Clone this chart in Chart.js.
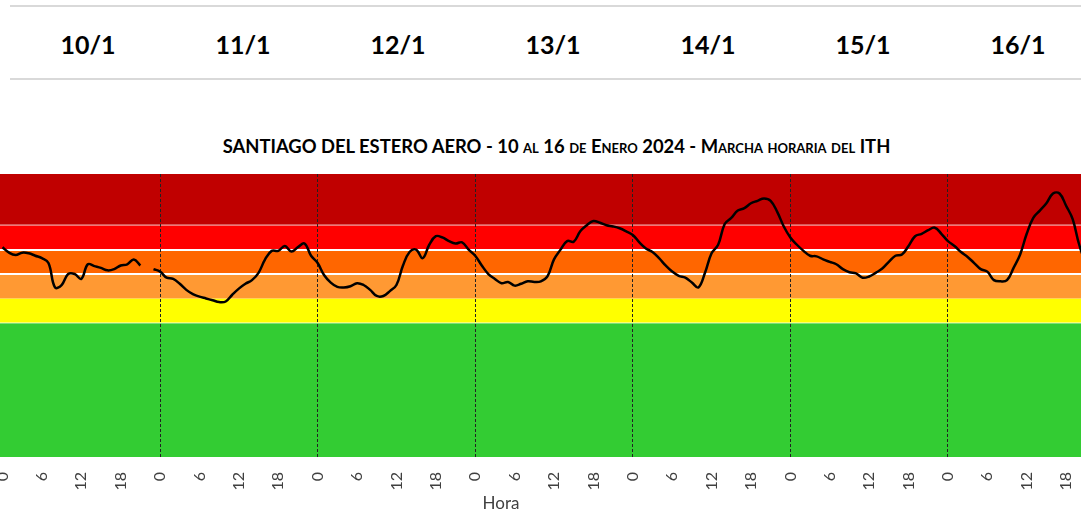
<!DOCTYPE html>
<html>
<head>
<meta charset="utf-8">
<script src="https://cdn.jsdelivr.net/npm/chart.js@4.4.1/dist/chart.umd.min.js"></script>
<style>
  body { margin: 0; width: 1081px; height: 513px; overflow: hidden; background: #fff; position: relative; font-family: Lato, "Open Sans", sans-serif; }
  .head { position: absolute; left: 10px; width: 1100px; top: 5px; height: 71px; border-top: 2px solid #d9d9d9; border-bottom: 2px solid #d9d9d9; }
  .day { position: absolute; top: 22px; width: 140px; margin-left: -70px; text-align: center; font-weight: 700; font-size: 25px; color: #000; }
  .title { position: absolute; left: 0; width: 1113px; top: 135px; text-align: center; font-weight: 700; font-size: 18.4px; font-variant: small-caps; color: #000; }
  .hora { position: absolute; left: 471px; width: 60px; top: 492px; text-align: center; font-size: 17px; color: #404040; }
  #chart { position: absolute; left: 0; top: 174px; }
</style>
</head>
<body>
<div class="head" id="head"></div>
<div class="title">SANTIAGO DEL ESTERO AERO - 10 al 16 de Enero 2024 - Marcha horaria del ITH</div>
<canvas id="chart" width="1103" height="333"></canvas>
<div class="hora">Hora</div>
<script>
  const dayLabels = ['10/1', '11/1', '12/1', '13/1', '14/1', '15/1', '16/1'];
  const hourTicks = [0, 6, 12, 18];

  // ITH hora a hora, un array por dia (null = sin dato)
  const ith10 = [77.2, 76.75, 76.55, 76.75, 76.7, 76.5, 76.3, 75.9, 73.9, 74.1, 75.0, 75.0, 74.6, 75.8, 75.65, 75.5, 75.3, 75.4, 75.7, 75.8, 76.2, 75.7, null, 75.4];
  const ith11 = [75.2, 74.7, 74.6, 74.2, 73.7, 73.35, 73.15, 73.0, 72.85, 72.7, 72.75, 73.3, 73.8, 74.2, 74.5, 75.1, 76.2, 76.9, 76.9, 77.3, 76.85, 77.2, 77.5, 76.5];
  const ith12 = [75.9, 74.9, 74.3, 73.95, 73.9, 74.0, 74.25, 74.1, 73.7, 73.2, 73.2, 73.6, 74.1, 75.7, 76.8, 77.0, 76.3, 77.4, 78.1, 78.0, 77.7, 77.5, 77.6, 77.0];
  const ith13 = [76.5, 75.7, 75.0, 74.6, 74.25, 74.35, 74.05, 74.2, 74.4, 74.35, 74.4, 74.8, 76.2, 77.0, 77.7, 77.65, 78.5, 79.0, 79.35, 79.2, 79.0, 78.9, 78.75, 78.5];
  const ith14 = [78.2, 77.6, 77.1, 76.8, 76.3, 75.7, 75.2, 74.85, 74.7, 74.3, 73.9, 75.1, 76.7, 77.4, 79.1, 79.6, 80.2, 80.4, 80.8, 81.0, 81.2, 81.0, 80.1, 78.9];
  const ith15 = [78.0, 77.4, 76.9, 76.5, 76.45, 76.2, 76.0, 75.8, 75.4, 75.15, 75.05, 74.7, 74.8, 75.1, 75.45, 76.0, 76.5, 76.6, 77.3, 78.1, 78.3, 78.6, 78.8, 78.3];
  const ith16 = [77.7, 77.3, 76.8, 76.4, 75.9, 75.4, 75.2, 74.5, 74.4, 74.5, 75.5, 76.6, 78.3, 79.6, 80.2, 80.8, 81.6, 81.6, 80.6, 79.5, 77.4, 76.0, 75.5, 75.2];

  // limites de las franjas de color del ITH
  const bandLimits = [71, 73, 75, 77, 79];
  const bandColors = ['#33CC33', '#FFFF00', '#FF9933', '#FF6600', '#FF0000', '#C00000'];

  const head = document.getElementById('head');
  dayLabels.forEach((t, i) => {
    const d = document.createElement('div');
    d.className = 'day';
    d.style.left = (78 + i * 155) + 'px';
    d.textContent = t;
    head.appendChild(d);
  });

  const days = [ith10, ith11, ith12, ith13, ith14, ith15, ith16];
  const points = [];
  days.forEach((vals, d) => vals.forEach((v, h) => points.push({ x: d * 24 + h, y: v })));

  const bands = {
    id: 'bands',
    beforeDraw(chart) {
      const { ctx, chartArea: a, scales: { y } } = chart;
      const edges = [y.min, ...bandLimits, y.max];
      ctx.save();
      bandColors.forEach((c, i) => {
        const top = y.getPixelForValue(edges[i + 1]);
        const bot = y.getPixelForValue(edges[i]);
        ctx.fillStyle = c;
        ctx.fillRect(a.left, top, a.right - a.left, bot - top);
      });
      function hline(v, w, col) {
        const p = Math.round(y.getPixelForValue(v));
        ctx.fillStyle = col;
        ctx.fillRect(a.left, p - w / 2, a.right - a.left, w);
      }
      hline(77, 2, '#fff');
      hline(75, 2, '#fff');
      hline(79, 1, 'rgba(255,255,255,0.7)');
      hline(71, 1, 'rgba(255,255,255,0.7)');
      ctx.restore();
    }
  };

  new Chart(document.getElementById('chart'), {
    type: 'line',
    data: {
      datasets: [{
        data: points,
        borderColor: '#000',
        borderWidth: 2.5,
        pointRadius: 0,
        tension: 0.4,
        spanGaps: false
      }]
    },
    options: {
      responsive: false,
      animation: false,
      events: [],
      layout: { padding: 0 },
      plugins: { legend: { display: false }, tooltip: { enabled: false } },
      scales: {
        x: {
          type: 'linear',
          min: -0.38,
          max: 167.62,
          afterBuildTicks(s) {
            s.ticks = [];
            days.forEach((vals, d) => hourTicks.forEach(h => s.ticks.push({ value: d * 24 + h })));
          },
          afterFit(s) {
            s.height = 50;
            s.paddingLeft = 0;
            s.paddingRight = 0;
          },
          ticks: {
            autoSkip: false,
            minRotation: 90,
            maxRotation: 90,
            padding: 15,
            color: '#404040',
            font: { family: 'Lato', size: 16 },
            callback: v => v % 24
          },
          grid: {
            drawTicks: false,
            lineWidth: 1,
            color: c => (c.tick && c.tick.value > 0 && c.tick.value % 24 === 0) ? '#222' : 'rgba(0,0,0,0)'
          },
          border: { display: false, dash: [3, 2] }
        },
        y: {
          display: false,
          min: 60,
          max: 83.2
        }
      }
    },
    plugins: [bands]
  });
</script>
</body>
</html>
